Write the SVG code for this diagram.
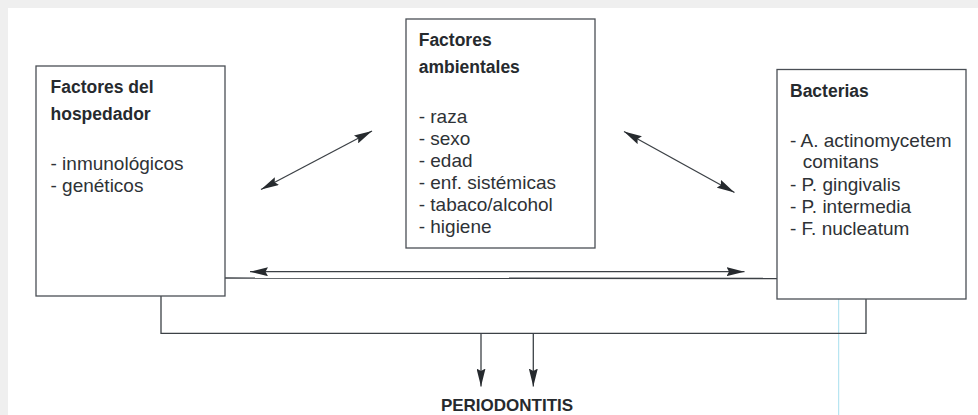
<svg xmlns="http://www.w3.org/2000/svg" width="978" height="415" viewBox="0 0 978 415">
<style>
.box{fill:#ffffff;stroke:#4a4f55;stroke-width:1.3}
.t{font-family:"Liberation Sans",Arial,sans-serif;font-size:19px;fill:#2e3236}
.b{font-family:"Liberation Sans",Arial,sans-serif;font-size:17.5px;font-weight:bold;fill:#262a2e}
.c{fill:none;stroke:#3c4146;stroke-width:1.3}
</style>
<defs>
<marker id="ah" viewBox="0 0 18 9" refX="18" refY="4.5" markerWidth="18" markerHeight="9" markerUnits="userSpaceOnUse" orient="auto-start-reverse">
<path d="M0,0 L18,4.5 L0,9 L2.5,4.5 z" fill="#262a2e"/>
</marker>
</defs>
<rect x="0" y="0" width="978" height="415" fill="#efefef"/>
<rect x="8" y="8" width="970" height="407" fill="#ffffff"/>
<line x1="838.7" y1="210" x2="838.7" y2="415" stroke="#a8dfee" stroke-width="1"/>

<g id="connectors">
<line class="c" x1="372" y1="131" x2="261" y2="189.5" marker-start="url(#ah)" marker-end="url(#ah)"/>
<line class="c" x1="624" y1="131.5" x2="734.5" y2="192.5" marker-start="url(#ah)" marker-end="url(#ah)"/>
<line class="c" x1="250" y1="271.7" x2="744.5" y2="271.7" marker-start="url(#ah)" marker-end="url(#ah)"/>
<line class="c" x1="225" y1="278" x2="777" y2="278.5"/>
<polyline class="c" points="161,296 161,333.3 866,333.3 866,299"/>
<line class="c" x1="481" y1="333.3" x2="481" y2="386.5" marker-end="url(#ah)"/>
<line class="c" x1="533.3" y1="333.3" x2="533.3" y2="386.5" marker-end="url(#ah)"/>
</g>

<g id="hospedador">
<rect class="box" x="36" y="66" width="189" height="230"/>
<text class="b" x="50.5" y="93.3">Factores del</text>
<text class="b" x="50.5" y="119.5">hospedador</text>
<text class="t" x="50.5" y="170">- inmunológicos</text>
<text class="t" x="50.5" y="192">- genéticos</text>
</g>

<g id="ambientales">
<rect class="box" x="406" y="19" width="189" height="229"/>
<text class="b" x="418.7" y="45.7">Factores</text>
<text class="b" x="418.7" y="72.7">ambientales</text>
<text class="t" x="418.7" y="122.7">- raza</text>
<text class="t" x="418.7" y="145">- sexo</text>
<text class="t" x="418.7" y="166.7">- edad</text>
<text class="t" x="418.7" y="189">- enf. sistémicas</text>
<text class="t" x="418.7" y="211">- tabaco/alcohol</text>
<text class="t" x="418.7" y="233">- higiene</text>
</g>

<g id="bacterias">
<rect class="box" x="777" y="69.5" width="189" height="229.5"/>
<text class="b" x="790" y="96.7">Bacterias</text>
<text class="t" x="790" y="147.3">- A. actinomycetem</text>
<text class="t" x="802.7" y="168.3">comitans</text>
<text class="t" x="790" y="190.7">- P. gingivalis</text>
<text class="t" x="790" y="212.7">- P. intermedia</text>
<text class="t" x="790" y="235">- F. nucleatum</text>
</g>

<g id="periodontitis">
<text class="b" x="507" y="410.5" text-anchor="middle" style="font-size:17px">PERIODONTITIS</text>
</g>
</svg>
